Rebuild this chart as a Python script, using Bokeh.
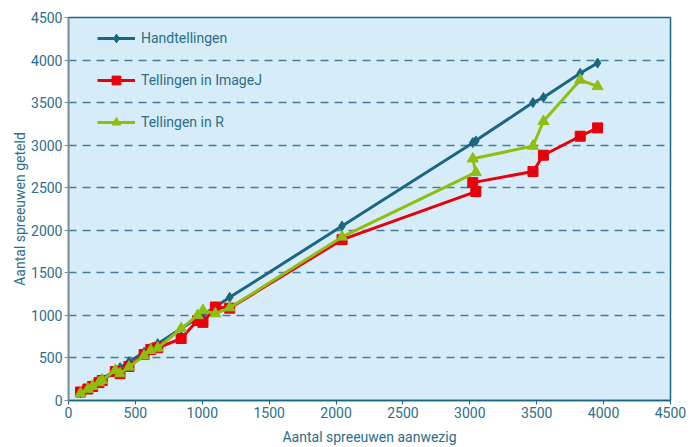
from bokeh.plotting import figure
from bokeh.models import Range1d, SingleIntervalTicker, Legend, LegendItem
from bokeh.embed import file_html
from bokeh.resources import INLINE

# Data (x = aantal aanwezig, series y = aantal geteld)
aanwezig = [90, 145, 180, 228, 252, 350, 385, 452, 565, 615, 667, 842, 965, 1005,
            1098, 1205, 2045, 3045, 3022, 3472, 3550, 3825, 3955]
handtellingen = [92, 146, 182, 230, 254, 352, 386, 455, 566, 617, 668, 845, 968, 1008,
                 1100, 1212, 2050, 3050, 3030, 3500, 3560, 3845, 3965]
imagej = [100, 135, 165, 210, 235, 340, 315, 400, 540, 600, 620, 728, 940, 918,
          1098, 1085, 1890, 2455, 2560, 2690, 2882, 3105, 3203]
r_tellingen = [85, 133, 168, 211, 238, 355, 316, 394, 525, 590, 617, 845, 1000, 1058,
               1020, 1090, 1922, 2680, 2840, 2990, 3280, 3766, 3690]

TEAL = "#1b6782"
TEXT = "#2c6e88"
RED = "#e8000b"
GREEN = "#8fbd10"
FONT = "Roboto"

p = figure(width=688, height=447, output_backend="svg", toolbar_location=None,
           x_range=Range1d(0, 4500), y_range=Range1d(0, 4500),
           min_border_left=68, min_border_right=18, min_border_top=17, min_border_bottom=46)
p.background_fill_color = "#d6ecf8"
p.border_fill_color = "white"
p.outline_line_color = TEAL
p.outline_line_width = 1.5

p.xgrid.visible = False
p.ygrid.grid_line_color = "#3f7f98"
p.ygrid.grid_line_dash = "8 6"
p.ygrid.grid_line_width = 1.5

for ax in (p.xaxis[0], p.yaxis[0]):
    ax.ticker = SingleIntervalTicker(interval=500)
    ax.minor_tick_line_color = None
    ax.major_label_text_color = TEXT
    ax.major_label_text_font = FONT
    ax.major_label_text_font_size = "14px"
    ax.axis_label_text_color = TEXT
    ax.axis_label_text_font = FONT
    ax.axis_label_text_font_size = "14px"
    ax.axis_label_text_font_style = "normal"
    ax.major_tick_in = 0
    ax.major_tick_out = 4
    ax.major_label_standoff = 2
p.xaxis.axis_line_color = TEAL
p.xaxis.major_tick_line_color = TEAL
p.xaxis.axis_line_width = 1.5
p.yaxis.axis_line_color = "#7a8f98"
p.yaxis.major_tick_line_color = "#7a8f98"
p.yaxis.axis_line_width = 1.5
p.xaxis.axis_label = "Aantal spreeuwen aanwezig"
p.yaxis.axis_label = "Aantal spreeuwen geteld"
p.xaxis.axis_label_standoff = 8
p.yaxis.axis_label_standoff = 0

l1 = p.line(aanwezig, handtellingen, line_color=TEAL, line_width=3)
m1 = p.scatter(aanwezig, handtellingen, marker="diamond", size=10, color=TEAL)
l2 = p.line(aanwezig, imagej, line_color=RED, line_width=3)
m2 = p.scatter(aanwezig, imagej, marker="square", size=10, color=RED)
l3 = p.line(aanwezig, r_tellingen, line_color=GREEN, line_width=3)
m3 = p.scatter(aanwezig, r_tellingen, marker="triangle", size=11, color=GREEN)

legend = Legend(items=[
    LegendItem(label="Handtellingen", renderers=[l1, m1]),
    LegendItem(label="Tellingen in ImageJ", renderers=[l2, m2]),
    LegendItem(label="Tellingen in R", renderers=[l3, m3]),
], location=(29, 267))
legend.background_fill_alpha = 0
legend.border_line_color = None
legend.label_text_color = TEXT
legend.label_text_font = FONT
legend.label_text_font_size = "14px"
legend.glyph_width = 38
legend.glyph_height = 22
legend.label_standoff = 6
legend.spacing = 20
legend.margin = 0
legend.padding = 10
p.add_layout(legend)

open("out.html", "w").write(file_html(p, INLINE))
